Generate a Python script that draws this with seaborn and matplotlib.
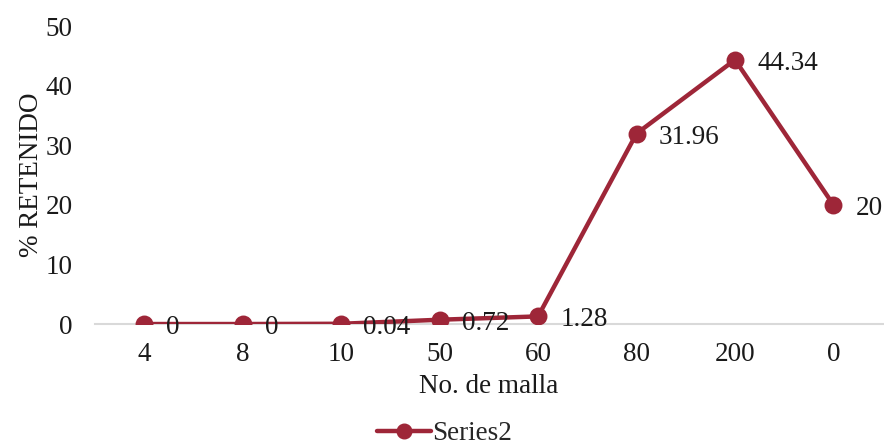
import matplotlib
matplotlib.use("Agg")
import matplotlib.pyplot as plt
from matplotlib.lines import Line2D
import seaborn as sns
import pandas as pd

# Sieve sizes and percentage retained on each
mallas = ["4", "8", "10", "50", "60", "80", "200", "0"]
retenido = [0, 0, 0.04, 0.72, 1.28, 31.96, 44.34, 20]
etiquetas = ["0", "0", "0.04", "0.72", "1.28", "31.96", "44.34", "20"]

color = "#9E2638"
fs = 19.5

sns.set_theme(style="white")
plt.rcParams["font.family"] = ["Liberation Serif", "DejaVu Serif"]

df = pd.DataFrame({"malla": mallas, "retenido": retenido})

fig = plt.figure(figsize=(8.84, 4.46), dpi=100)
ax = fig.add_axes([0.1075, 0.2735, 0.891, 0.668])

sns.pointplot(data=df, x="malla", y="retenido", order=mallas, color=color,
              errorbar=None, markers="o", markersize=10.5, linewidth=3.2, ax=ax)

for i, (v, t) in enumerate(zip(retenido, etiquetas)):
    ax.annotate(t, (i, v), xytext=(16, -2.5), textcoords="offset points",
                ha="left", va="center", fontsize=fs, color="#1a1a1a")

ax.set_xlim(-0.5, len(mallas) - 0.5)
ax.set_ylim(0, 50)
ax.set_yticks([0, 10, 20, 30, 40, 50])
ax.tick_params(axis="both", length=0, labelsize=fs, colors="#1a1a1a")
ax.tick_params(axis="x", pad=13)
ax.tick_params(axis="y", pad=16)

for s in ["top", "right", "left"]:
    ax.spines[s].set_visible(False)
ax.spines["bottom"].set_color("#D9D9D9")
ax.spines["bottom"].set_linewidth(1.5)
ax.spines["bottom"].set_zorder(0)

ax.set_xlabel("No. de malla", fontsize=fs, color="#1a1a1a", labelpad=5)
ax.set_ylabel("% RETENIDO", fontsize=fs, color="#1a1a1a", labelpad=1)

handle = Line2D([], [], color=color, marker="o", markersize=10.5, linewidth=3.2)
fig.legend(handles=[handle], labels=["Series2"], loc="center",
           bbox_to_anchor=(0.503, 0.027), frameon=False, fontsize=fs,
           handlelength=2.0, handletextpad=0.05)

fig.savefig("out.png", dpi=100)
